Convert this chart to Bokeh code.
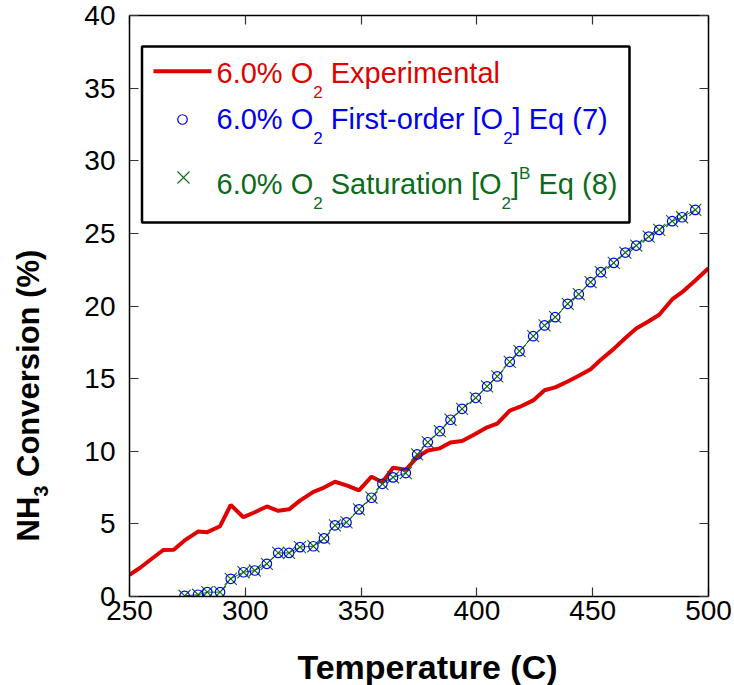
import math
from bokeh.plotting import figure
from bokeh.layouts import row, column
from bokeh.models import Range1d, LinearAxis, Label, FixedTicker, BoxAnnotation
from bokeh.core.properties import value
from bokeh.embed import file_html
from bokeh.resources import INLINE

# ---------------- data ----------------
temp_model = [273.8, 279.6, 283.6, 289.1, 293.7, 299.2, 304.1, 309.3, 314.2, 318.9,
              323.6, 329.4, 334.0, 338.7, 343.7, 349.1, 354.5, 359.2, 363.8, 369.3,
              374.2, 378.8, 384.0, 388.6, 393.6, 399.5, 404.4, 408.8, 414.2, 418.4,
              424.3, 429.2, 433.8, 439.2, 444.0, 449.1, 453.5, 459.1, 464.1, 468.8,
              474.2, 478.7, 484.3, 488.6, 494.3]
conv_first_order = [0.05, 0.12, 0.30, 0.30, 1.22, 1.67, 1.79, 2.25, 3.00, 3.00,
                    3.40, 3.46, 4.00, 4.90, 5.10, 6.00, 6.80, 7.76, 8.20, 8.50,
                    9.78, 10.62, 11.38, 12.17, 12.92, 13.68, 14.46, 15.15, 16.16, 16.89,
                    17.92, 18.66, 19.23, 20.15, 20.81, 21.64, 22.33, 22.97, 23.68, 24.16,
                    24.78, 25.24, 25.84, 26.11, 26.62]
conv_saturation = [0.05, 0.12, 0.30, 0.30, 1.22, 1.67, 1.79, 2.25, 3.00, 3.00,
                   3.40, 3.46, 4.00, 4.90, 5.10, 6.00, 6.80, 7.76, 8.20, 8.50,
                   9.78, 10.62, 11.38, 12.17, 12.92, 13.68, 14.46, 15.15, 16.16, 16.89,
                   17.92, 18.66, 19.23, 20.15, 20.81, 21.64, 22.33, 22.97, 23.68, 24.16,
                   24.78, 25.24, 25.84, 26.11, 26.62]
temp_exp = [250.0, 254.6, 259.6, 264.6, 269.1, 273.8, 279.6, 283.6, 289.1, 293.7,
            299.2, 304.1, 309.3, 314.2, 318.9, 323.6, 329.4, 334.0, 338.7, 343.7,
            349.1, 354.5, 359.2, 363.8, 369.3, 374.2, 378.8, 384.0, 388.6, 393.6,
            399.5, 404.4, 408.8, 414.2, 418.4, 424.3, 429.2, 433.8, 439.2, 444.0,
            449.1, 453.5, 459.1, 464.1, 468.8, 474.2, 478.7, 484.3, 488.6, 494.3,
            500.0]
conv_exp = [1.50, 1.98, 2.60, 3.20, 3.22, 3.86, 4.47, 4.43, 4.84, 6.30,
            5.46, 5.80, 6.20, 5.90, 6.00, 6.60, 7.20, 7.50, 7.90, 7.65,
            7.30, 8.25, 7.87, 8.86, 8.72, 9.60, 10.05, 10.20, 10.60, 10.70,
            11.20, 11.65, 11.90, 12.80, 13.05, 13.50, 14.20, 14.40, 14.80, 15.20,
            15.65, 16.30, 17.05, 17.80, 18.45, 18.95, 19.40, 20.45, 20.95, 21.75,
            22.60]
x_ticks = [250, 300, 350, 400, 450, 500]
y_ticks = [0, 5, 10, 15, 20, 25, 30, 35, 40]
x_title = "Temperature (C)"

# ---------------- styling / layout ----------------
RED, BLUE, GREEN = "#e00000", "#0000f0", "#0b6b1b"
FONT = "Liberation Sans"
W, H = 734, 685
W1 = 60                       # left panel: rotated y title
HB = 50                       # bottom panel: x title
PH = H - HB                   # height of main plot / left panel
BL, BR, BT, BB = 69, 26, 15, 39
FW, FH = W - W1 - BL - BR, PH - BT - BB
FRAME_L, FRAME_B = W1 + BL, PH - BB       # page pixels of the frame's left / bottom edge
X0, X1, Y0, Y1 = 250, 500, 0, 40


def fx(px):   # page pixel -> data x
    return X0 + (px - FRAME_L) * (X1 - X0) / FW


def fy(py):   # page pixel -> data y
    return Y0 + (FRAME_B - py) * (Y1 - Y0) / FH


REG = {' ': 278, '%': 889, '(': 333, ')': 333, '-': 333, '.': 278, '0': 556, '1': 556,
       '2': 556, '3': 556, '4': 556, '5': 556, '6': 556, '7': 556, '8': 556, '9': 556,
       'B': 667, 'E': 667, 'F': 611, 'O': 778, 'S': 667, '[': 278, ']': 278, 'a': 556,
       'd': 556, 'e': 556, 'i': 222, 'l': 222, 'm': 833, 'n': 556, 'o': 556, 'p': 556,
       'q': 556, 'r': 333, 's': 500, 't': 278, 'u': 556, 'x': 500}
BOLD = {' ': 278, '%': 889, '(': 333, ')': 333, 'C': 722, 'H': 722, 'N': 722, 'e': 556,
        'i': 278, 'n': 611, 'o': 611, 'r': 389, 's': 556, 'v': 556, '3': 556}


def tw(s, size, table):
    return sum(table[c] for c in s) * size / 1000.0


def bare(fig):
    fig.axis.visible = False
    fig.xgrid.visible = False
    fig.ygrid.visible = False
    fig.outline_line_color = None
    fig.background_fill_color = "white"
    fig.border_fill_color = "white"


p = figure(width=W - W1, height=PH, x_range=Range1d(X0, X1), y_range=Range1d(Y0, Y1),
           output_backend="svg", toolbar_location=None,
           min_border_left=BL, min_border_right=BR, min_border_top=BT, min_border_bottom=BB)
p.xgrid.visible = False
p.ygrid.visible = False
p.outline_line_color = None
p.background_fill_color = "white"
p.border_fill_color = "white"

bottom_axis = p.below[0]
left_axis = p.left[0]
bottom_axis.ticker = FixedTicker(ticks=x_ticks)
left_axis.ticker = FixedTicker(ticks=y_ticks)
bottom_axis.major_label_standoff = 4
left_axis.major_label_standoff = 14

top_axis = LinearAxis(ticker=FixedTicker(ticks=x_ticks),
                      major_label_overrides={t: "" for t in x_ticks})
right_axis = LinearAxis(ticker=FixedTicker(ticks=y_ticks),
                        major_label_overrides={t: "" for t in y_ticks})
p.add_layout(top_axis, "above")
p.add_layout(right_axis, "right")

for ax in [bottom_axis, left_axis, top_axis, right_axis]:
    ax.major_tick_in = 9
    ax.major_tick_out = 0
    ax.minor_tick_in = 0
    ax.minor_tick_out = 0
    ax.axis_line_width = 1.5
    ax.axis_line_color = "black"
    ax.major_tick_line_width = 1.2
    ax.major_tick_line_color = "#333333"
    ax.major_label_text_font = FONT
    ax.major_label_text_font_size = "28px"
    ax.major_label_text_color = "black"
top_axis.major_label_text_font_size = "0px"
right_axis.major_label_text_font_size = "0px"
top_axis.major_label_standoff = 0
right_axis.major_label_standoff = 0

# ---------------- data marks ----------------
p.line(temp_exp, conv_exp, line_color=RED, line_width=4)
p.line(temp_model, conv_saturation, line_color=GREEN, line_width=1)
p.scatter(temp_model, conv_saturation, marker="x", size=17, line_color=GREEN, line_width=1.1)
p.scatter(temp_model, conv_first_order, marker="circle", size=9.5, line_color=BLUE,
          fill_color=None, line_width=1.2)

# ---------------- legend (hand built for sub/superscripts) ----------------
box = BoxAnnotation(left=fx(141.5), right=fx(629), top=fy(46), bottom=fy(222),
                    fill_color="white", fill_alpha=1.0, line_color="black",
                    line_alpha=1.0, line_width=2.5, level="underlay")
p.add_layout(box)

p.line([fx(153), fx(211)], [fy(70.7), fy(70.7)], line_color=RED, line_width=4)
p.scatter([fx(182)], [fy(119)], marker="circle", size=9.5, line_color=BLUE,
          fill_color=None, line_width=1.2)
p.scatter([fx(183)], [fy(177)], marker="x", size=17, line_color=GREEN, line_width=1.1)

F, FS = 29, 17
rows = [
    (72.8, RED, [("6.0% O", "n"), ("2", "sub"), (" Experimental", "n")]),
    (118.3, BLUE, [("6.0% O", "n"), ("2", "sub"), (" First-order [O", "n"), ("2", "sub"),
                   ("] Eq (7)", "n")]),
    (183.3, GREEN, [("6.0% O", "n"), ("2", "sub"), (" Saturation [O", "n"), ("2", "sub"),
                    ("]", "n"), ("B", "sup"), (" Eq (8)", "n")]),
]
for mid, col, segs in rows:
    x = 216.0
    for txt, kind in segs:
        size = F if kind == "n" else FS
        dy = 0 if kind == "n" else (19 if kind == "sub" else -10)
        if txt.startswith(" "):
            x += tw(" ", size, REG)
            txt = txt[1:]
        p.add_layout(Label(x=fx(x), y=fy(mid + dy), text=txt, text_font=FONT,
                           text_font_size=f"{size}px", text_color=col,
                           text_align="left", text_baseline="middle"))
        x += tw(txt, size, REG)

# ---------------- y title panel (rotated, with subscript) ----------------
t = figure(width=W1, height=PH, x_range=Range1d(0, W1), y_range=Range1d(H - FRAME_B, H - BT),
           output_backend="svg", toolbar_location=None,
           min_border_left=0, min_border_right=0, min_border_top=BT, min_border_bottom=BB)
bare(t)

yb = 541.0
for txt, kind in [("NH", "n"), ("3", "sub"), (" Conversion (%)", "n")]:
    size = 31 if kind == "n" else 20
    cx = 28 if kind == "n" else 40
    if txt.startswith(" "):
        yb -= tw(" ", size, BOLD)
        txt = txt[1:]
    t.text(x=[cx], y=[H - yb], text=[txt], angle=math.pi / 2,
           text_font=value(FONT), text_font_size=value(f"{size}px"),
           text_font_style="bold", text_color="black",
           text_align="left", text_baseline="middle")
    yb -= tw(txt, size, BOLD)

# ---------------- x title panel ----------------
b = figure(width=W, height=HB, x_range=Range1d(0, W), y_range=Range1d(0, HB),
           output_backend="svg", toolbar_location=None,
           min_border_left=0, min_border_right=0, min_border_top=0, min_border_bottom=0)
bare(b)
b.text(x=[427], y=[H - 666.5], text=[x_title], text_font=value(FONT),
       text_font_size=value("34px"), text_font_style="bold", text_color="black",
       text_align="center", text_baseline="middle")

layout = column(row(t, p, spacing=0), b, spacing=0)
open("out.html", "w").write(file_html(layout, INLINE))
